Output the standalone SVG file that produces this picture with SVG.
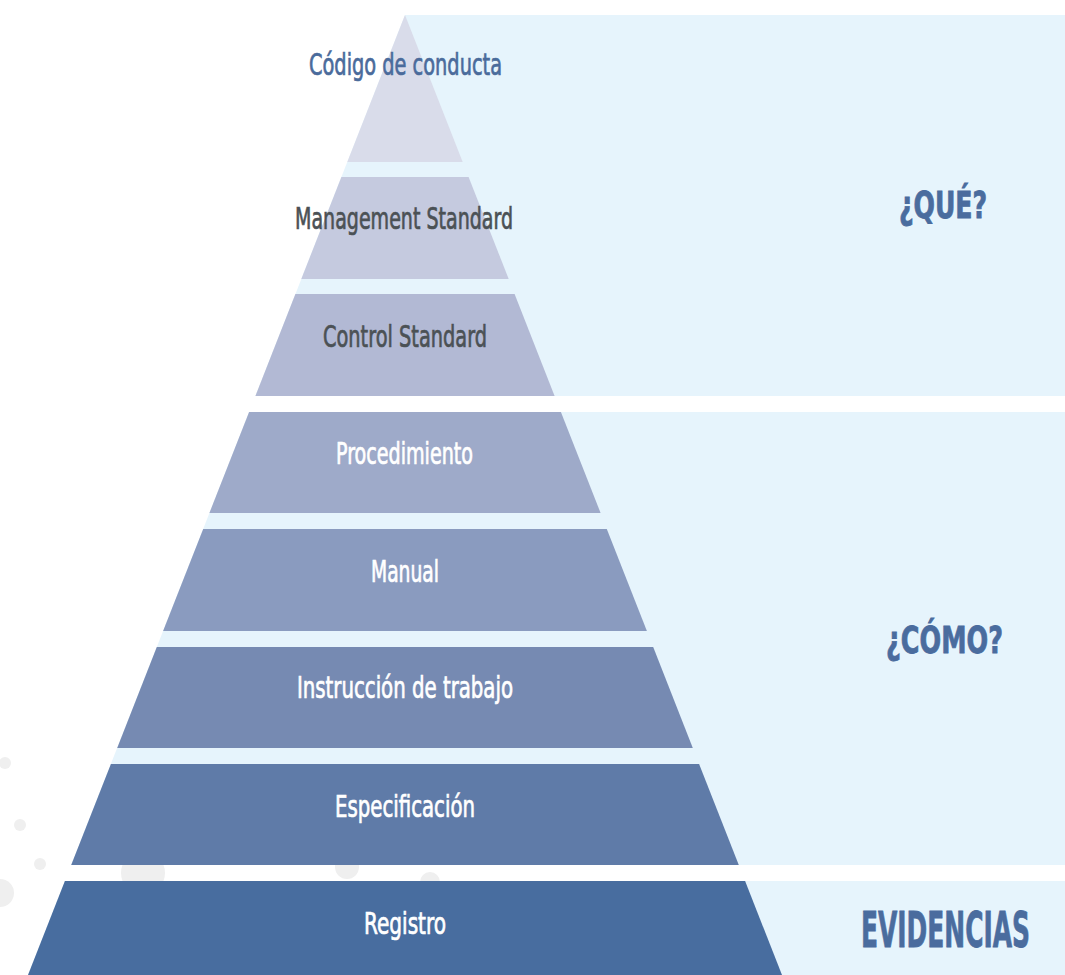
<svg xmlns="http://www.w3.org/2000/svg" width="1065" height="975" viewBox="0 0 1065 975">
  <style>
    .lbl { font-family: "Liberation Sans Narrow", "DejaVu Sans Condensed", "Liberation Sans", sans-serif; font-size: 30px; text-anchor: middle; stroke-width: 0.7px; }
    .w { fill: #ffffff; stroke: #ffffff; }
    .g { fill: #4b5155; stroke: #4b5155; }
    .b { fill: #4a6b9b; stroke: #4a6b9b; }
    .head { font-family: "Liberation Sans Narrow", "DejaVu Sans Condensed", "Liberation Sans", sans-serif; font-weight: bold; text-anchor: middle; fill: #4a6c9e; stroke: #4a6c9e; stroke-width: 0.8px; }
    .panel { fill: #e6f4fc; }
    .dot { fill: #efefef; }
  </style>
  <rect width="1065" height="975" fill="#ffffff"/>
  <g id="decor">
    <circle class="dot" cx="5" cy="763" r="6"/>
    <circle class="dot" cx="20" cy="825" r="6"/>
    <circle class="dot" cx="40" cy="864" r="6"/>
    <circle class="dot" cx="0" cy="893" r="14"/>
    <circle class="dot" cx="143" cy="873" r="22"/>
    <circle class="dot" cx="347" cy="867" r="12"/>
    <circle class="dot" cx="430" cy="882" r="10"/>
  </g>
  <g id="panels">
    <polygon class="panel" points="405,15 1065,15 1065,396 255.4,396"/>
    <polygon class="panel" points="249.1,412 1065,412 1065,865 71.2,865"/>
    <polygon class="panel" points="64.9,881 1065,881 1065,975 28,975"/>
  </g>
  <g id="codigo">
    <polygon points="405,15 462.7,162 347.3,162" fill="#d9dcea"/>
    <text class="lbl b" x="405.5" y="75" textLength="193" lengthAdjust="spacingAndGlyphs">Código de conducta</text>
  </g>
  <g id="management">
    <polygon points="341.4,177 468.6,177 508.7,279 301.3,279" fill="#c5cadf"/>
    <text class="lbl g" x="404" y="229" textLength="218" lengthAdjust="spacingAndGlyphs">Management Standard</text>
  </g>
  <g id="control">
    <polygon points="295.4,294 514.6,294 554.6,396 255.4,396" fill="#b2b9d4"/>
    <text class="lbl g" x="405" y="347" textLength="164" lengthAdjust="spacingAndGlyphs">Control Standard</text>
  </g>
  <g id="procedimiento">
    <polygon points="249.1,412 560.9,412 600.6,513 209.4,513" fill="#9eaac9"/>
    <text class="lbl w" x="404.5" y="464" textLength="137" lengthAdjust="spacingAndGlyphs">Procedimiento</text>
  </g>
  <g id="manual">
    <polygon points="203.2,529 606.8,529 646.9,631 163.1,631" fill="#8a9bbf"/>
    <text class="lbl w" x="405" y="582" textLength="68" lengthAdjust="spacingAndGlyphs">Manual</text>
  </g>
  <g id="instruccion">
    <polygon points="156.8,647 653.2,647 692.8,748 117.2,748" fill="#768ab2"/>
    <text class="lbl w" x="405" y="698" textLength="216" lengthAdjust="spacingAndGlyphs">Instrucción de trabajo</text>
  </g>
  <g id="especificacion">
    <polygon points="110.9,764 699.1,764 738.8,865 71.2,865" fill="#5f7ba8"/>
    <text class="lbl w" x="405" y="817" textLength="140" lengthAdjust="spacingAndGlyphs">Especificación</text>
  </g>
  <g id="registro">
    <polygon points="64.9,881 745.1,881 782,975 28,975" fill="#486d9f"/>
    <text class="lbl w" x="405" y="934" textLength="82" lengthAdjust="spacingAndGlyphs">Registro</text>
  </g>
  <g id="que">
    <text class="head" transform="translate(943,218) scale(0.7,1)" font-size="38" textLength="126" lengthAdjust="spacingAndGlyphs">¿QUÉ?</text>
  </g>
  <g id="como">
    <text class="head" transform="translate(944.5,653) scale(0.7,1)" font-size="38" textLength="167" lengthAdjust="spacingAndGlyphs">¿CÓMO?</text>
  </g>
  <g id="evidencias">
    <text class="head" transform="translate(945.5,947) scale(0.6,1)" font-size="50" textLength="282" lengthAdjust="spacingAndGlyphs">EVIDENCIAS</text>
  </g>
  <g id="connectors"/>
</svg>
